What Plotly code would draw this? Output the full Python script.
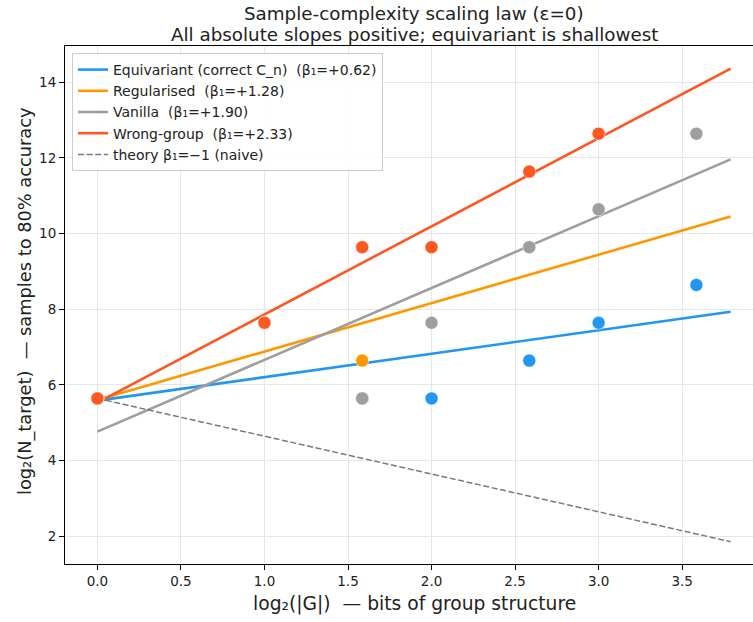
import plotly.graph_objects as go

# ---- data ----
x_bits = [0.0, 1.0, 1.585, 2.0, 2.585, 3.0, 3.585]          # log2(|G|)
y_equivariant = [5.64, 7.64, 5.64, 5.64, 6.64, 7.64, 8.64]
y_regularised = [5.64, 7.64, 6.64, None, None, None, None]
y_vanilla = [5.64, 7.64, 5.64, 7.64, 9.64, 10.64, 12.64]
y_wrong = [5.64, 7.64, 9.64, 9.64, 11.64, 12.64, None]

series_names = ["Equivariant (correct C_n)  (β₁=+0.62)",
                "Regularised  (β₁=+1.28)",
                "Vanilla  (β₁=+1.90)",
                "Wrong-group  (β₁=+2.33)"]
series_colors = ["#2196F3", "#FF9800", "#9E9E9E", "#FF5722"]
fit_slopes = [0.62, 1.28, 1.90, 2.33]
fit_intercepts = [5.58, 5.60, 4.76, 5.53]
fit_x = [0.0, 3.79]

theory_slope = -1.0
theory_intercept = 5.64
theory_name = "theory β₁=−1 (naive)"

x_ticks = [0.0, 0.5, 1.0, 1.5, 2.0, 2.5, 3.0, 3.5]
y_ticks = [2, 4, 6, 8, 10, 12, 14]

title_lines = ["Sample-complexity scaling law (ε=0)",
               "All absolute slopes positive; equivariant is shallowest"]
x_label = "log₂(|G|)  — bits of group structure"
y_label = "log₂(N_target)  — samples to 80% accuracy"

FONT = "DejaVu Sans"
# plot-area geometry (pixels)
W, H = 753, 622
L, R, T, B = 65, 0, 46, 58
PW, PH = W - L - R, H - T - B


def px_x(p):
    return (p - L) / PW


def px_y(p):
    return 1 - (p - T) / PH


fig = go.Figure()
all_y = [y_equivariant, y_regularised, y_vanilla, y_wrong]

# fit lines (legend entries)
for name, col, b, a in zip(series_names, series_colors, fit_slopes, fit_intercepts):
    fig.add_trace(go.Scatter(
        x=fit_x, y=[a + b * xv for xv in fit_x], mode="lines", name=name,
        line=dict(color=col, width=2.6), showlegend=True))

fig.add_trace(go.Scatter(
    x=fit_x, y=[theory_intercept + theory_slope * xv for xv in fit_x],
    mode="lines", name=theory_name,
    line=dict(color="#7a7a7a", width=1.5, dash="6px,2.6px")))

# markers
for name, col, ys in zip(series_names, series_colors, all_y):
    fig.add_trace(go.Scatter(
        x=x_bits, y=ys, mode="markers", showlegend=False, name=name,
        marker=dict(color=col, size=13, line=dict(color="white", width=0.5))))

axis_common = dict(
    showgrid=True, gridcolor="#e6e6e6", gridwidth=1, zeroline=False,
    showline=True, linecolor="black", linewidth=1,
    ticks="outside", ticklen=5, tickwidth=1, tickcolor="black",
    tickfont=dict(family=FONT, size=13.5, color="#222"),
)

fig.update_xaxes(range=[-0.194, 3.924], tickvals=x_ticks,
                 ticktext=[f"{v:.1f}" for v in x_ticks], mirror=True, **axis_common)
fig.update_yaxes(range=[1.26, 14.96], tickvals=y_ticks,
                 ticktext=[str(v) for v in y_ticks], mirror=False, **axis_common)

annotations = [
    dict(text=title_lines[0], x=px_x(414), y=px_y(14), xanchor="center", yanchor="middle",
         font=dict(family=FONT, size=18.3, color="#222")),
    dict(text=title_lines[1], x=px_x(414), y=px_y(34.5), xanchor="center", yanchor="middle",
         font=dict(family=FONT, size=18.3, color="#222")),
    dict(text=x_label, x=px_x(414), y=px_y(604), xanchor="center", yanchor="middle",
         font=dict(family=FONT, size=18.7, color="#222")),
    dict(text=y_label, textangle=-90, x=px_x(25), y=px_y(301), xanchor="center",
         yanchor="middle", font=dict(family=FONT, size=17.8, color="#222")),
]
for a in annotations:
    a.update(xref="paper", yref="paper", showarrow=False)

fig.update_layout(
    width=W, height=H,
    margin=dict(l=L, r=R, t=T, b=B),
    plot_bgcolor="white", paper_bgcolor="white",
    font=dict(family=FONT, color="#222"),
    showlegend=True,
    legend=dict(x=px_x(72), y=px_y(53), xanchor="left", yanchor="top",
                bgcolor="rgba(255,255,255,0.85)", bordercolor="#cccccc",
                borderwidth=1, font=dict(family=FONT, size=14, color="#222")),
    annotations=annotations,
)

fig.write_html("out.html")
